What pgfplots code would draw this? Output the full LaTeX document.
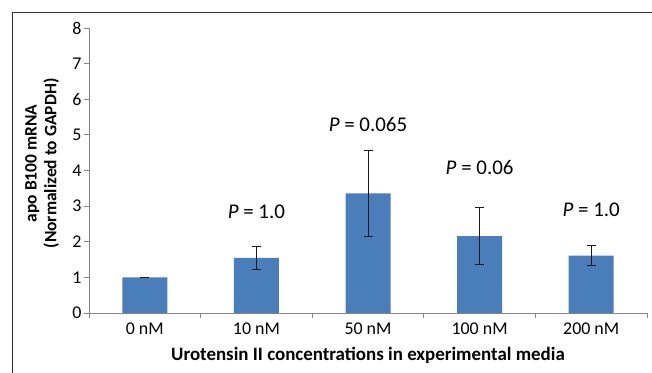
\documentclass[border=0pt]{standalone}
\usepackage{pgfplots}
\pgfplotsset{compat=1.18}
\usepackage{fontspec}
\setmainfont{Carlito}
\definecolor{barblue}{RGB}{74,126,187}
\definecolor{axgray}{RGB}{134,134,134}
\begin{document}
\begin{tikzpicture}
\useasboundingbox (0bp,0bp) rectangle (652bp,-373bp);
\clip (0bp,0bp) rectangle (652bp,-373bp);
\draw[black!80, line width=1bp] (12bp,-12bp) rectangle (700bp,-420bp);
\begin{axis}[
  at={(89bp,-313bp)}, anchor=south west, scale only axis,
  width=558bp, height=285bp,
  ymin=0, ymax=8, ytick={0,...,8},
  xmin=-0.5, xmax=4.5,
  axis lines*=left,
  axis line style={axgray, line width=0.8bp},
  xtick={0,...,4},
  xticklabels={0 nM,10 nM,50 nM,100 nM,200 nM},
  major x tick style={draw=none},
  minor xtick={-0.5,0.5,...,4.5},
  tick align=outside, major tick length=5bp, minor tick length=5bp,
  tick style={axgray, line width=0.8bp},
  ticklabel style={font=\fontsize{18}{21}\selectfont},
  xticklabel style={yshift=-1bp},
  yticklabel style={xshift=1bp},
  /pgf/number format/assume math mode=true,
  xlabel={\bfseries Urotensin II concentrations in experimental media},
  xlabel style={font=\fontsize{19}{22}\selectfont, yshift=-6bp},
  ylabel={\bfseries apo B100 mRNA\\\bfseries (Normalized to GAPDH)},
  ylabel style={align=center, font=\fontsize{17.5}{20}\selectfont,
    at={(axis description cs:-0.084,0.525)}, anchor=center},
  ybar, bar width=45bp,
  clip=false,
]
\addplot[ybar, fill=barblue, draw=none,
  error bars/.cd, y dir=both, y explicit,
  error bar style={black!90, line width=0.9bp},
  error mark options={rotate=90, mark size=4.5bp, black!90, line width=0.9bp}]
  coordinates {
  (0,1.00) +- (0,0.01)
  (1,1.55) +- (0,0.33)
  (2,3.36) +- (0,1.20)
  (3,2.16) +- (0,0.80)
  (4,1.61) +- (0,0.28)
  };
\node[anchor=base, font=\fontsize{21}{24}\selectfont] at (axis cs:1,2.64) {\textit{P} = 1.0};
\node[anchor=base, font=\fontsize{21}{24}\selectfont] at (axis cs:2,5.09) {\textit{P} = 0.065};
\node[anchor=base, font=\fontsize{21}{24}\selectfont] at (axis cs:3,3.88) {\textit{P} = 0.06};
\node[anchor=base, font=\fontsize{21}{24}\selectfont] at (axis cs:4,2.70) {\textit{P} = 1.0};
\end{axis}
\end{tikzpicture}
\end{document}
